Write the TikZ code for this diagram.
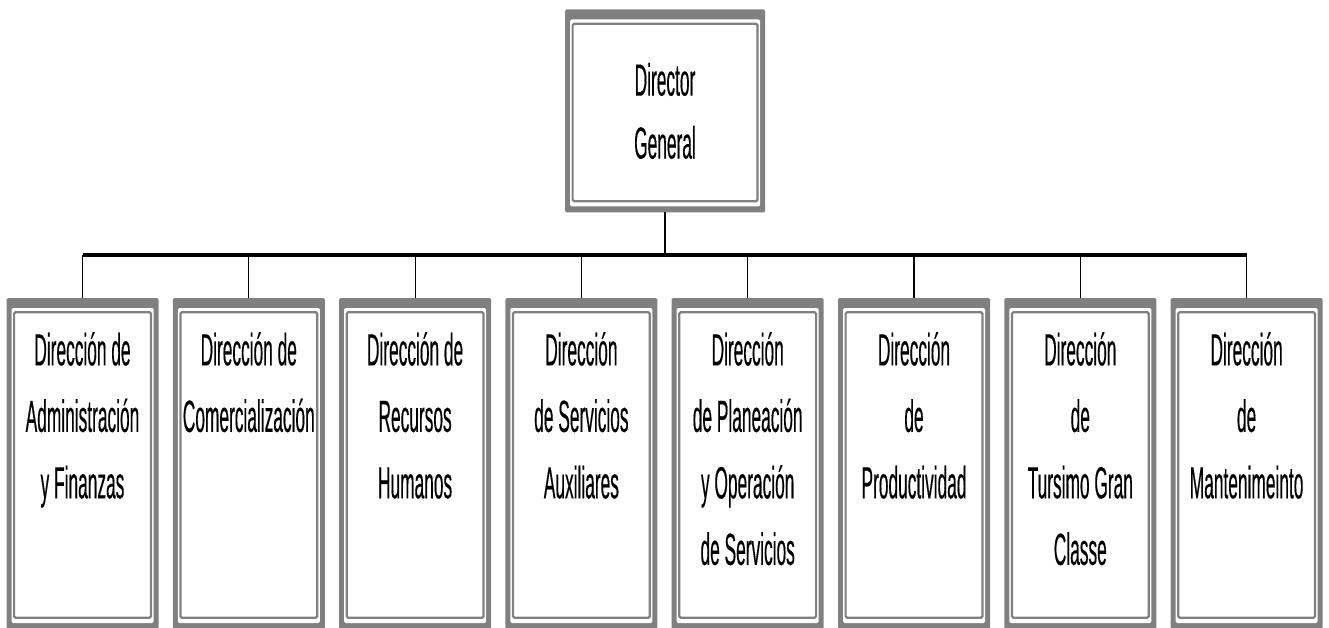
\documentclass[tikz,border=0pt]{standalone}
\usepackage{fontspec}
\newfontfamily\orgfont[FakeStretch=0.385,FakeBold=0.25]{Liberation Sans}
\usetikzlibrary{calc}
\definecolor{boxgray}{HTML}{808080}
\begin{document}
\begin{tikzpicture}[x=1pt,y=-1pt,
  orgbox/.style={rectangle, rounded corners=1.5pt, fill=boxgray, inner sep=0pt, outer sep=0pt,
    path picture={
      \fill[white] ($(path picture bounding box.south west)+(5pt,6pt)$) rectangle ($(path picture bounding box.north east)+(-5pt,-10pt)$);
      \draw[boxgray, line width=2.2pt] ($(path picture bounding box.south west)+(7.6pt,11.2pt)$) rectangle ($(path picture bounding box.north east)+(-7.6pt,-14.2pt)$);
    }},
  topbox/.style={orgbox, minimum width=200pt, minimum height=203pt},
  subbox/.style={orgbox, minimum width=152pt, minimum height=331pt},
  lbl/.style={font=\orgfont\fontsize{45}{66.5}\selectfont, align=center, inner sep=0pt},
  toplbl/.style={font=\orgfont\fontsize{45}{63}\selectfont, align=center, inner sep=0pt},
  bus/.style={line width=3.5pt},
  drop/.style={line width=1.2pt},
]
\useasboundingbox (0,0) rectangle (1329,628);
\node[topbox] (dg) at (665,111) {};
\node[toplbl] (dgt) at (dg.center) {Director\\General};

\node[subbox] (b1) at (82.5,463.5) {};
\node[subbox] (b2) at (248.8,463.5) {};
\node[subbox] (b3) at (415.1,463.5) {};
\node[subbox] (b4) at (581.4,463.5) {};
\node[subbox] (b5) at (747.7,463.5) {};
\node[subbox] (b6) at (914.0,463.5) {};
\node[subbox] (b7) at (1080.3,463.5) {};
\node[subbox] (b8) at (1246.6,463.5) {};

\node[lbl, anchor=north] (t1) at ($(b1.north)+(0,34)$) {Dirección de\\Administración\\y Finanzas};
\node[lbl, anchor=north] (t2) at ($(b2.north)+(0,34)$) {Dirección de\\Comercialización};
\node[lbl, anchor=north] (t3) at ($(b3.north)+(0,34)$) {Dirección de\\Recursos\\Humanos};
\node[lbl, anchor=north] (t4) at ($(b4.north)+(0,34)$) {Dirección\\de Servicios\\Auxiliares};
\node[lbl, anchor=north] (t5) at ($(b5.north)+(0,34)$) {Dirección\\de Planeación\\y Operación\\de Servicios};
\node[lbl, anchor=north] (t6) at ($(b6.north)+(0,34)$) {Dirección\\de\\Productividad};
\node[lbl, anchor=north] (t7) at ($(b7.north)+(0,34)$) {Dirección\\de\\Tursimo Gran\\Classe};
\node[lbl, anchor=north] (t8) at ($(b8.north)+(0,34)$) {Dirección\\de\\Mantenimeinto};

\coordinate (busy) at (0,255);
\draw[drop] (dg.south) -- (dg.south |- busy);
\draw[bus] (b1.north |- busy) -- (b8.north |- busy);
\foreach \i in {1,...,8} {
  \draw[drop] (b\i.north |- busy) -- (b\i.north);
}
\end{tikzpicture}
\end{document}
